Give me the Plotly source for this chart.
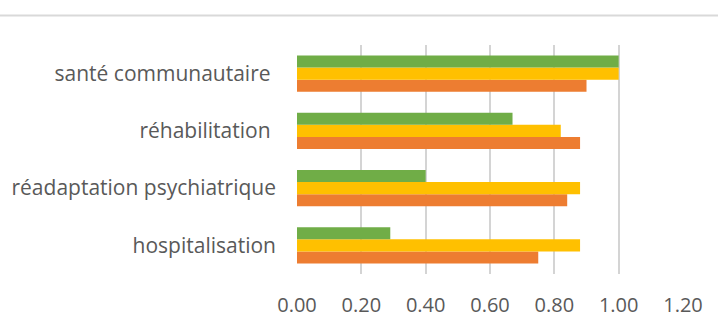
import plotly.graph_objects as go

categories = ["hospitalisation", "réadaptation psychiatrique", "réhabilitation\u00a0", "santé communautaire\u00a0"]
series_orange = [0.75, 0.84, 0.88, 0.90]
series_yellow = [0.88, 0.88, 0.82, 1.00]
series_green = [0.29, 0.40, 0.67, 1.00]
x_ticks = [0, 0.2, 0.4, 0.6, 0.8, 1.0, 1.2]
x_tick_labels = ["0.00", "0.20", "0.40", "0.60", "0.80", "1.00", "1.20"]

W, H = 718, 324
ML, MR, MT, MB = 297, 35, 45, 50
plot_w = W - ML - MR
plot_h = H - MT - MB

fig = go.Figure()
for name, vals, col in [("orange", series_orange, "#ED7D31"),
                        ("yellow", series_yellow, "#FFC000"),
                        ("green", series_green, "#70AD47")]:
    fig.add_trace(go.Bar(y=categories, x=vals, orientation="h", name=name,
                         marker=dict(color=col, line=dict(width=0))))

txt = "#595959"
fig.update_layout(
    template="none",
    width=W, height=H,
    margin=dict(l=ML, r=MR, t=MT, b=MB, pad=0),
    barmode="group", bargap=0.365, bargroupgap=0,
    showlegend=False,
    plot_bgcolor="white", paper_bgcolor="white",
    font=dict(family="Open Sans", color=txt),
    xaxis=dict(range=[0, 1.2], tickvals=x_ticks, ticktext=x_tick_labels,
               showgrid=True, gridcolor="#d4d4d4", gridwidth=2,
               zeroline=False, showline=False, ticks="", automargin=False,
               tickfont=dict(size=20, color=txt), ticklabelstandoff=17),
    yaxis=dict(showgrid=False, zeroline=False, showline=False, ticks="",
               automargin=False,
               tickfont=dict(size=21, color=txt), ticklabelstandoff=20,
               range=[-0.5, 3.5]),
)
fig.add_shape(type="line", xref="paper", yref="paper",
              x0=-ML / plot_w, x1=1 + MR / plot_w,
              y0=1 + (MT - 15.5) / plot_h, y1=1 + (MT - 15.5) / plot_h,
              line=dict(color="#d9d9d9", width=2))
fig.write_html("out.html", config={"displayModeBar": False},
               post_script="document.body.style.margin='0';document.body.style.padding='0';")
